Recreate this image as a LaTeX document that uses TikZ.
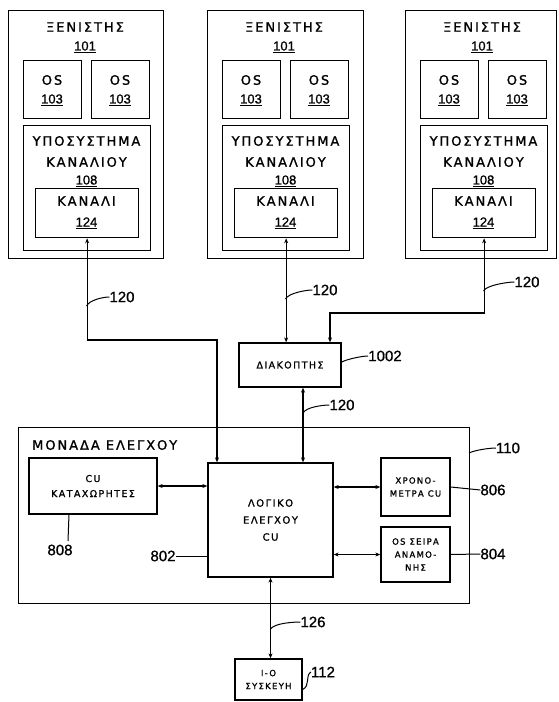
\documentclass[tikz,border=0pt]{standalone}
\usepackage{fontspec}
\setmainfont{Liberation Sans}
\newfontfamily\gk[LetterSpace=15,FakeBold=1.2]{DejaVu Sans}
\newfontfamily\numf[FakeBold=1]{Liberation Sans}
\usetikzlibrary{arrows.meta,calc}
\begin{document}
\begin{tikzpicture}[x=1pt,y=-1pt,
  box/.style={draw,line width=1.3pt,inner sep=0pt,align=center},
  wire/.style={line width=1.2pt},
  dbl/.style={{Stealth[length=5pt,width=4pt]}-{Stealth[length=5pt,width=4pt]}},
  lead/.style={line width=1pt},
  big/.style={font=\gk\fontsize{13}{15}\selectfont,inner sep=0pt},
  ref/.style={font=\numf\fontsize{13}{15}\selectfont,inner sep=0pt},
  num/.style={font=\numf\fontsize{15}{17}\selectfont,inner sep=0pt},
  txa/.style={font=\gk\fontsize{9.5}{15}\selectfont},
  txb/.style={font=\gk\fontsize{10}{17}\selectfont},
  txc/.style={font=\gk\fontsize{8.5}{13}\selectfont},
]
\useasboundingbox (0,0) rectangle (558,702);

% hosts
\foreach \i/\x/\w in {1/8/155,2/207/156,3/405/151}{
  \node[box,anchor=north west,minimum width=\w pt,minimum height=248pt] (h\i) at (\x,10) {};
  \node[box,anchor=north west,minimum width=58pt,minimum height=58pt] (osa\i) at (\x+15,60) {};
  \node[box,anchor=north west,minimum width=58pt,minimum height=58pt] (osb\i) at (\x+83,60) {};
  \node[box,anchor=north west,minimum width=127pt,minimum height=125pt] (sub\i) at (\x+15,125) {};
  \node[box,anchor=north west,minimum width=103pt,minimum height=49pt] (ch\i) at (\x+27,188) {};
  \node[big] (ht\i) at (\x+77,27) {ΞΕΝΙΣΤΗΣ};
  \node[ref] (hn\i) at (\x+77,47) {\underline{101}};
  \node[big] (oat\i) at (\x+44,80) {OS};
  \node[ref] (oan\i) at (\x+44,100) {\underline{103}};
  \node[big] (obt\i) at (\x+112,80) {OS};
  \node[ref] (obn\i) at (\x+112,100) {\underline{103}};
  \node[big] (st\i) at (\x+78.5,141) {ΥΠΟΣΥΣΤΗΜΑ};
  \node[big] (su\i) at (\x+78.5,162) {ΚΑΝΑΛΙΟΥ};
  \node[ref] (sn\i) at (\x+78.5,181) {\underline{108}};
  \node[big] (ct\i) at (\x+78.5,201) {ΚΑΝΑΛΙ};
  \node[ref] (cn\i) at (\x+78.5,223) {\underline{124}};
}

% switch
\node[box,txa,minimum width=102pt,minimum height=44pt] (sw) at (290,365) {ΔΙΑΚΟΠΤΗΣ};

% control unit
\node[box,anchor=north west,minimum width=451pt,minimum height=176pt] (cu) at (18,427) {};
\node[big,anchor=west] (cut) at (32,445) {ΜΟΝΑΔΑ ΕΛΕΓΧΟΥ};
\node[box,txa,minimum width=128pt,minimum height=56pt] (reg) at (93,486) {CU\\ΚΑΤΑΧΩΡΗΤΕΣ};
\node[box,txb,minimum width=125pt,minimum height=114pt] (logic) at (270.5,520) {ΛΟΓΙΚΟ\\ΕΛΕΓΧΟΥ\\CU};
\node[box,txc,minimum width=69pt,minimum height=58pt] (timers) at (415.5,487) {ΧΡΟΝΟ-\\ΜΕΤΡΑ CU};
\node[box,txc,minimum width=69pt,minimum height=55pt] (queue) at (415.5,554.5) {OS ΣΕΙΡΑ\\ΑΝΑΜΟ-\\ΝΗΣ};
\node[box,txc,minimum width=67pt,minimum height=41pt] (io) at (268.5,679.5) {I-O\\ΣΥΣΚΕΥΗ};

% connectors
\coordinate (j1) at (217,340);
\coordinate (j3) at (330,313);
\coordinate (x303) at (303,0);
\draw[wire,dbl] (ch1.south) |- (j1) -- (j1 |- logic.north);
\draw[wire,dbl] (ch2.south) -- (ch2.south |- sw.north);
\draw[wire,dbl] (ch3.south) |- (j3) -- (j3 |- sw.north);
\draw[wire,dbl] (sw.south -| x303) -- (logic.north -| x303);
\draw[wire,dbl] (reg.east) -- (reg.east -| logic.west);
\draw[wire,dbl] (logic.east |- timers.west) -- (timers.west);
\draw[wire,dbl] (logic.east |- queue.west) -- (queue.west);
\draw[wire,dbl] (logic.south) -- (logic.south |- io.north);

% reference labels
\node[num] (l120a) at (122,297) {120};
\node[num] (l120b) at (325,290) {120};
\node[num] (l120c) at (527,282) {120};
\node[num] (l1002) at (385,356) {1002};
\node[num] (l120d) at (342,405) {120};
\node[num] (l110) at (508,448) {110};
\node[num] (l806) at (493,490) {806};
\node[num] (l804) at (493,554) {804};
\node[num] (l808) at (60,550) {808};
\node[num] (l802) at (163,556) {802};
\node[num] (l126) at (313,622) {126};
\node[num] (l112) at (323,672) {112};

\coordinate (p120a) at (86.5,306);
\coordinate (p120b) at (285.5,299);
\coordinate (p120c) at (483.5,291);
\coordinate (p120d) at (303,413);
\coordinate (p110) at (469,453);
\coordinate (p808a) at (69,514);
\coordinate (p808b) at (68,541);
\coordinate (p126) at (270.5,629);

\draw[lead] (p120a) .. controls +(3,-6) and +(-6,0) .. (l120a.west);
\draw[lead] (p120b) .. controls +(3,-6) and +(-6,0) .. (l120b.west);
\draw[lead] (p120c) .. controls +(3,-6) and +(-6,0) .. (l120c.west);
\draw[lead] ($(sw.east)+(0,-3)$) .. controls +(6,-3) and +(-6,0) .. (l1002.west);
\draw[lead] (p120d) .. controls +(3,-6) and +(-6,0) .. (l120d.west);
\draw[lead] (p110) .. controls +(6,-3) and +(-6,0) .. (l110.west);
\draw[lead] (timers.east) -- (l806.west);
\draw[lead] (queue.east) -- (l804.west);
\draw[lead] (p808a) -- (p808b);
\draw[lead] (l802.east) -- (l802.east -| logic.west);
\draw[lead] (p126) .. controls +(4,-6) and +(-6,0) .. (l126.west);
\draw[lead] ($(io.east)+(0,10)$) .. controls +(8,-4) and +(-6,4) .. (l112.west);
\end{tikzpicture}
\end{document}
